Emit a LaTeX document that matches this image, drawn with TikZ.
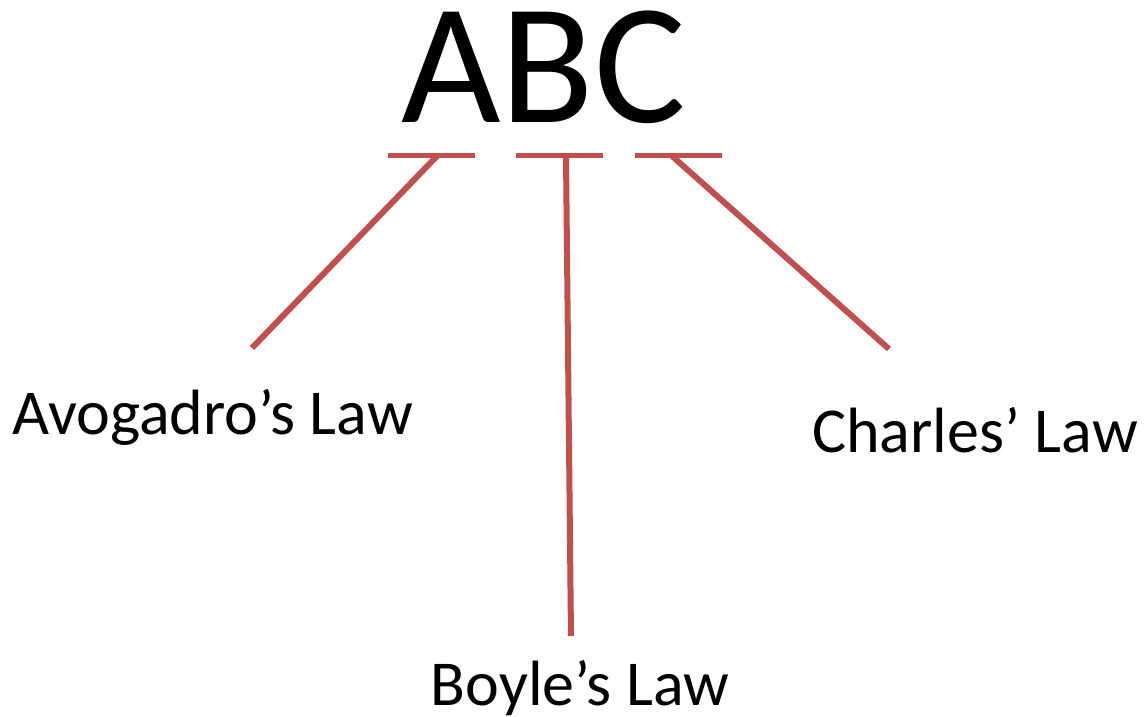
\documentclass[tikz,border=0pt]{standalone}
\usepackage{fontspec}
\setmainfont{Carlito}
\definecolor{accred}{HTML}{C0504D}
\begin{document}
\begin{tikzpicture}[x=1pt,y=-1pt,
  lbl/.style={inner sep=0pt, anchor=base, font=\fontsize{64}{70}\selectfont},
  bar/.style={draw=accred, line width=5pt},
  link/.style={draw=accred, line width=6pt}]
\useasboundingbox (0,0) rectangle (1144,717);
\node[inner sep=0pt, anchor=base, font=\fontsize{172}{180}\selectfont] (abc) at (543.5,122) {ABC};
\node[lbl] (avo) at (212.5,434) {Avogadro’s Law};
\node[lbl] (cha) at (975,452) {Charles’ Law};
\node[lbl] (boy) at (580,705) {Boyle’s Law};
% bars
\coordinate (a1) at (388,155.5); \coordinate (a2) at (475,155.5);
\coordinate (b1) at (516,155.5); \coordinate (b2) at (603,155.5);
\coordinate (c1) at (635,155.5); \coordinate (c2) at (722,155.5);
\draw[bar] (a1) -- (a2);
\draw[bar] (b1) -- (b2);
\draw[bar] (c1) -- (c2);
% links
\coordinate (at) at (437,156); \coordinate (ae) at (252,348);
\coordinate (bt) at (566,156); \coordinate (be) at (571,636);
\coordinate (ct) at (672,156); \coordinate (ce) at (889,349);
\draw[link] (at) -- (ae);
\draw[link] (bt) -- (be);
\draw[link] (ct) -- (ce);
\end{tikzpicture}
\end{document}
